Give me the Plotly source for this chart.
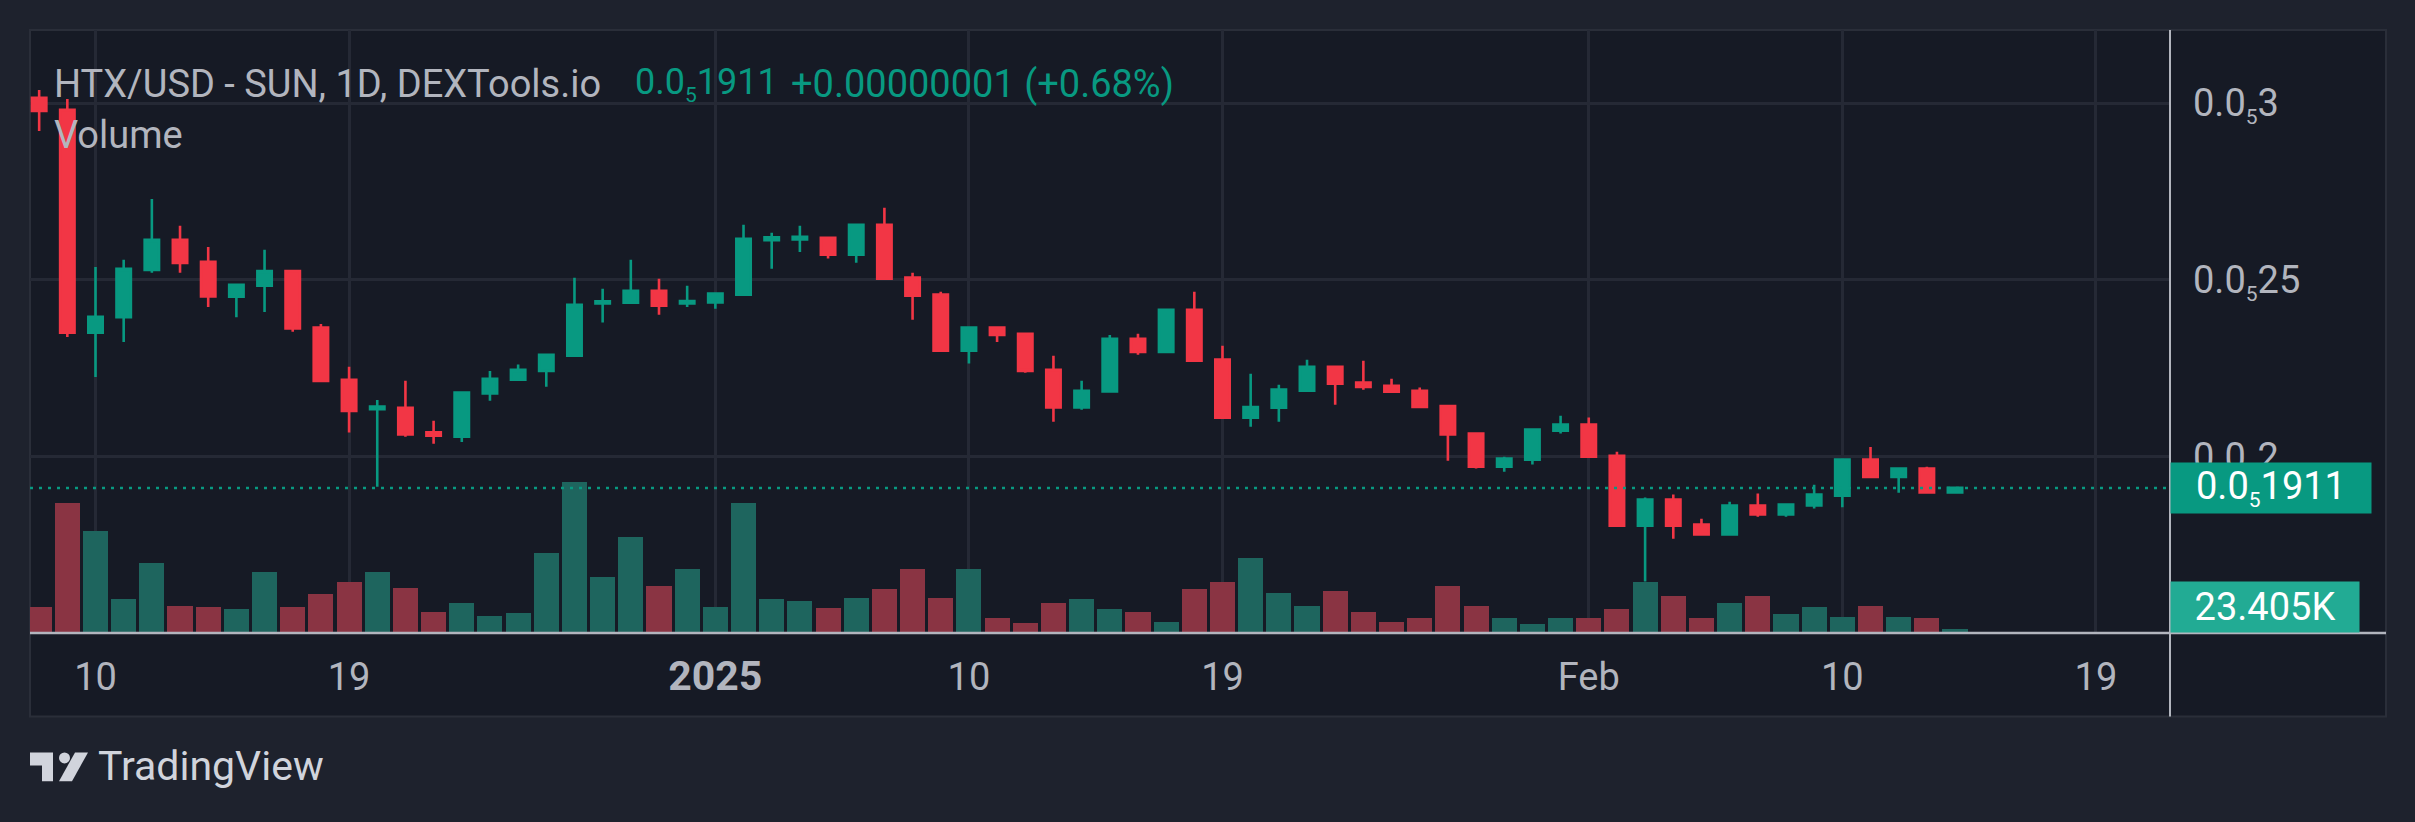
import pandas as pd
import plotly.graph_objects as go

# ---------------- data (prices in units of 1e-6 USD) ----------------
open_ = [3.015, 2.981, 2.350, 2.394, 2.528, 2.613, 2.551, 2.452, 2.483, 2.525,
         2.365, 2.217, 2.134, 2.138, 2.068, 2.056, 2.178, 2.217, 2.242, 2.285,
         2.433, 2.435, 2.469, 2.433, 2.436, 2.458, 2.612, 2.614, 2.619, 2.571,
         2.656, 2.506, 2.458, 2.299, 2.365, 2.347, 2.245, 2.139, 2.184, 2.333,
         2.296, 2.415, 2.274, 2.110, 2.138, 2.186, 2.254, 2.209, 2.200, 2.186,
         2.143, 2.065, 1.971, 1.991, 2.073, 2.090, 2.002, 1.804, 1.878, 1.807,
         1.779, 1.861, 1.836, 1.861, 1.889, 1.991, 1.942, 1.966, 1.898]
high = [3.037, 3.012, 2.536, 2.557, 2.729, 2.653, 2.593, 2.488, 2.585, 2.527,
        2.375, 2.254, 2.160, 2.214, 2.101, 2.183, 2.242, 2.260, 2.291, 2.506,
        2.475, 2.557, 2.503, 2.483, 2.463, 2.656, 2.633, 2.653, 2.621, 2.659,
        2.704, 2.520, 2.466, 2.367, 2.367, 2.349, 2.285, 2.214, 2.344, 2.347,
        2.415, 2.466, 2.313, 2.234, 2.203, 2.274, 2.256, 2.271, 2.220, 2.195,
        2.145, 2.067, 1.999, 2.078, 2.115, 2.110, 2.013, 1.884, 1.892, 1.824,
        1.872, 1.895, 1.867, 1.920, 1.994, 2.027, 1.969, 1.971, 1.914]
low = [2.921, 2.338, 2.225, 2.324, 2.520, 2.520, 2.423, 2.394, 2.409, 2.353,
       2.212, 2.068, 1.914, 2.056, 2.036, 2.041, 2.158, 2.217, 2.197, 2.285,
       2.379, 2.432, 2.401, 2.423, 2.418, 2.458, 2.531, 2.579, 2.560, 2.548,
       2.503, 2.387, 2.299, 2.263, 2.324, 2.237, 2.098, 2.132, 2.184, 2.288,
       2.296, 2.267, 2.110, 2.084, 2.098, 2.186, 2.146, 2.189, 2.183, 2.140,
       1.988, 1.966, 1.957, 1.977, 2.065, 1.999, 1.804, 1.646, 1.767, 1.779,
       1.779, 1.829, 1.829, 1.853, 1.856, 1.942, 1.897, 1.898, 1.898]
close = [2.978, 2.350, 2.395, 2.531, 2.613, 2.548, 2.453, 2.486, 2.525, 2.362,
         2.214, 2.129, 2.141, 2.062, 2.059, 2.181, 2.220, 2.245, 2.288, 2.429,
         2.439, 2.469, 2.427, 2.440, 2.461, 2.616, 2.620, 2.622, 2.571, 2.656,
         2.503, 2.455, 2.299, 2.365, 2.344, 2.242, 2.139, 2.186, 2.333, 2.296,
         2.415, 2.271, 2.110, 2.140, 2.189, 2.254, 2.206, 2.197, 2.183, 2.140,
         2.062, 1.971, 1.994, 2.076, 2.090, 1.999, 1.804, 1.878, 1.804, 1.779,
         1.861, 1.836, 1.864, 1.892, 1.991, 1.942, 1.966, 1.898, 1.911]
volume_k = [173.2, 854.3, 671.7, 220.0, 456.4, 180.2, 173.2, 154.5, 402.6, 173.2,
            252.8, 337.0, 402.6, 297.2, 140.4, 198.9, 114.7, 128.7, 521.9, 987.7,
            369.8, 631.9, 311.3, 416.6, 173.2, 849.6, 220.0, 213.0, 161.5, 231.7,
            285.5, 416.6, 231.7, 416.6, 100.6, 63.2, 198.9, 220.0, 154.5, 140.4,
            74.9, 285.5, 337.0, 489.2, 264.5, 180.2, 278.5, 140.4, 74.9, 96.0,
            311.3, 180.2, 100.6, 56.2, 100.6, 100.6, 154.5, 337.0, 245.8, 100.6,
            194.3, 245.8, 121.7, 173.2, 107.7, 180.2, 107.7, 96.0, 23.405]
start_date = "2024-12-08"
last_price = 1.911
last_volume_label = "23.405K"

x_tickvals = ["2024-12-10", "2024-12-19", "2025-01-01", "2025-01-10",
              "2025-01-19", "2025-02-01", "2025-02-10", "2025-02-19"]
x_ticklabels = ["10", "19", "2025", "10", "19", "Feb", "10", "19"]
y_tickvals = [2.0, 2.5, 3.0]
y_ticklabels = [("0.0", "5", "2"), ("0.0", "5", "25"), ("0.0", "5", "3")]

dates = pd.date_range(start_date, periods=len(open_), freq="D")

# ---------------- style ----------------
UP = "#089981"
DOWN = "#f23645"
VOL_UP = "#1e655e"
VOL_DOWN = "#8a3443"
OUTER_BG = "#1e222d"
PANE_BG = "#161a25"
GRID = "#252935"
TXT = "#b2b5be"
FONT = "Roboto"
FS = 38
SUB_FS = 21

W, H = 2415, 822
ML, MR, MT, MB = 30, 245, 30, 188.5
PW = W - ML - MR
PH = H - MT - MB


def px_x(p):
    return (p - ML) / PW


def px_y(p):
    return (H - MB - p) / PH


def subfmt(a, s, b):
    return f"{a}<sub><span style='font-size:{SUB_FS}px'>{s}</span></sub>{b}"


x_ticktext = [f"<b><span style='font-size:41px'>{t}</span></b>" if t.isdigit() and len(t) == 4
              else t for t in x_ticklabels]
y_ticktext = [subfmt(*t) for t in y_ticklabels]
last_price_text = subfmt("0.0", "5", "1911")

vol_colors = [VOL_UP if c >= o else VOL_DOWN for o, c in zip(open_, close)]

fig = go.Figure()
fig.add_trace(go.Bar(
    x=dates, y=volume_k, yaxis="y2", marker=dict(color=vol_colors, line=dict(width=0)),
    width=0.89 * 86400000, hoverinfo="skip", showlegend=False))
fig.add_trace(go.Candlestick(
    x=dates, open=open_, high=high, low=low, close=close,
    increasing=dict(line=dict(color=UP, width=2.6), fillcolor=UP),
    decreasing=dict(line=dict(color=DOWN, width=2.6), fillcolor=DOWN),
    whiskerwidth=0, showlegend=False))

shapes = [
    dict(type="rect", xref="paper", yref="paper", x0=px_x(30), x1=px_x(2386),
         y0=px_y(717), y1=px_y(30), fillcolor=PANE_BG, line=dict(color="#2a2e39", width=2),
         layer="below"),
    dict(type="line", xref="paper", yref="y", x0=0, x1=1, y0=last_price, y1=last_price,
         line=dict(color=UP, width=2.5, dash="3px,6px")),
    dict(type="line", xref="paper", yref="paper", x0=1, x1=1, y0=px_y(717), y1=px_y(30),
         line=dict(color="#b2b5be", width=2)),
    dict(type="line", xref="paper", yref="paper", x0=0, x1=px_x(2386), y0=0, y1=0,
         line=dict(color="#b2b5be", width=2.5)),
]


def poly(points):
    return "M " + " L ".join(f"{px_x(a):.5f},{px_y(b):.5f}" for a, b in points) + " Z"


LOGO = "#d1d4dc"
shapes += [
    dict(type="path", xref="paper", yref="paper", line=dict(width=0), fillcolor=LOGO,
         path=poly([(30, 753), (53, 753), (53, 782), (42, 782), (42, 766), (30, 766)])),
    dict(type="circle", xref="paper", yref="paper", line=dict(width=0), fillcolor=LOGO,
         x0=px_x(59), x1=px_x(70), y0=px_y(764), y1=px_y(753)),
    dict(type="path", xref="paper", yref="paper", line=dict(width=0), fillcolor=LOGO,
         path=poly([(75, 753), (88, 753), (72, 782), (59, 782)])),
]

ann = [
    dict(text="HTX/USD - SUN, 1D, DEXTools.io", x=px_x(52), y=px_y(84), font=dict(color=TXT)),
    dict(text=last_price_text, x=px_x(633), y=px_y(84), font=dict(color=UP, size=36)),
    dict(text="+0.00000001 (+0.68%)", x=px_x(789), y=px_y(84), font=dict(color=UP)),
    dict(text="Volume", x=px_x(52), y=px_y(135), font=dict(color=TXT)),
    dict(text="TradingView", x=px_x(96), y=px_y(767), font=dict(color=LOGO, size=41)),
]
annotations = []
for a in ann:
    d = dict(xref="paper", yref="paper", xanchor="left", yanchor="middle",
             showarrow=False)
    d.update(a)
    d["font"] = dict(family=FONT, size=a["font"].get("size", FS), color=a["font"]["color"])
    annotations.append(d)

annotations.append(dict(
    text=last_price_text, xref="paper", yref="y", x=1, y=last_price,
    xanchor="left", yanchor="middle", showarrow=False, align="center",
    width=196, height=46, borderpad=2, bgcolor=UP,
    font=dict(family=FONT, size=FS, color="#ffffff")))
annotations.append(dict(
    text=last_volume_label, xref="paper", yref="y2", x=1, y=0,
    xanchor="left", yanchor="bottom", showarrow=False, align="center",
    width=184, height=46, borderpad=2, bgcolor="#22ab94",
    font=dict(family=FONT, size=FS, color="#ffffff")))

fig.update_layout(
    width=W, height=H,
    margin=dict(l=ML, r=MR, t=MT, b=MB, pad=0),
    paper_bgcolor=OUTER_BG, plot_bgcolor=PANE_BG,
    font=dict(family=FONT, size=FS, color=TXT),
    boxgap=0.27,
    bargap=0,
    showlegend=False,
    xaxis=dict(
        type="date", range=["2024-12-07 16:12", "2025-02-21 15:07"],
        tickvals=x_tickvals, ticktext=x_ticktext, ticks="",
        showgrid=True, gridcolor=GRID, gridwidth=2.5, zeroline=False,
        showline=False, rangeslider=dict(visible=False),
        tickfont=dict(family=FONT, size=FS, color=TXT), ticklabelstandoff=18,
        fixedrange=True),
    yaxis=dict(
        side="right", range=[1.5003, 3.2070], tickvals=y_tickvals, ticktext=y_ticktext,
        ticks="", showgrid=True, gridcolor=GRID, gridwidth=2.5, zeroline=False,
        showline=False, tickfont=dict(family=FONT, size=FS, color=TXT),
        ticklabelstandoff=22, fixedrange=True),
    yaxis2=dict(
        overlaying="y", range=[0, 3955], showgrid=False, showticklabels=False,
        zeroline=False, fixedrange=True),
    shapes=shapes,
    annotations=annotations,
)

fig.write_html("out.html", config={"displayModeBar": False},
               post_script="document.body.style.margin='0';")
